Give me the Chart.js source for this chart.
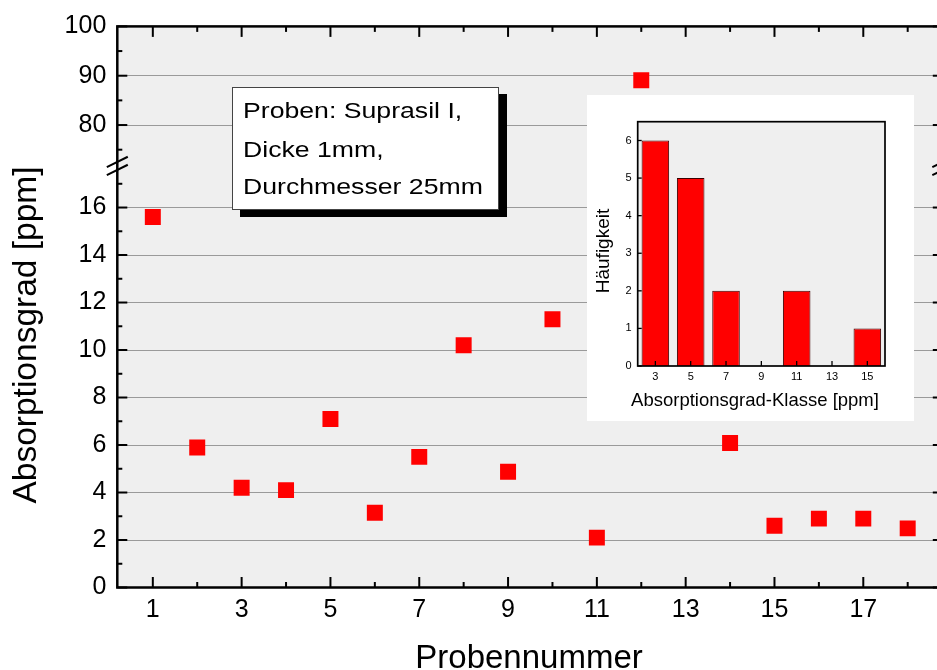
<!DOCTYPE html>
<html>
<head>
<meta charset="utf-8">
<script src="https://cdn.jsdelivr.net/npm/chart.js@4.4.1/dist/chart.umd.min.js"></script>
<style>
html,body{margin:0;padding:0;background:#fff;overflow:hidden;width:937px;height:670px;}
#wrap{position:relative;width:937px;height:670px;overflow:hidden;}
#main{position:absolute;left:0;top:0;}
#note{position:absolute;left:232px;top:87px;width:265px;height:121px;background:#fff;border:1px solid #444;box-shadow:8px 7px 0 0 #000;font-family:'Liberation Sans',Arial,sans-serif;color:#000;}
#note div{position:absolute;left:10px;white-space:nowrap;font-size:22.4px;line-height:26px;transform:scaleX(1.19);transform-origin:0 0;}
#inset{position:absolute;left:587px;top:95px;width:327px;height:326px;background:#fff;}
#insetCanvas{position:absolute;left:0;top:0;}
</style>
</head>
<body>
<div id="wrap">
  <canvas id="main" width="937" height="670"></canvas>
  <div id="note">
    <div style="top:10.2px">Proben: Suprasil I,</div>
    <div style="top:48.5px">Dicke 1mm,</div>
    <div style="top:85.5px">Durchmesser 25mm</div>
  </div>
  <div id="inset"><canvas id="insetCanvas" width="327" height="326"></canvas></div>
</div>
<script>
// ---- data ----
const sampleNumbers = [1, 2, 3, 4, 5, 6, 7, 8, 9, 10, 11, 12, 14, 15, 16, 17, 18];
const absorption    = [15.6, 5.9, 4.2, 4.1, 7.1, 3.15, 5.5, 10.2, 4.87, 11.3, 2.1, 89.1, 6.08, 2.6, 2.9, 2.9, 2.49];
const lowerRange = [0, 17.75];   // lower part of broken y axis
const upperRange = [71.7, 100];  // upper part of broken y axis
const xRange = [0.2, 18.66];     // visible part of the x axis (frame continues just past the right edge)
const histClasses = ['3', '5', '7', '9', '11', '13', '15'];
const histCounts  = [6, 5, 2, 0, 2, 0, 1];
const histRange = [0, 6.5];

const FONT = "'Liberation Sans', Arial, Helvetica, sans-serif";
Chart.defaults.font.family = FONT;
Chart.defaults.color = '#000';

const pts = sampleNumbers.map((x, i) => ({x: x, y: absorption[i]}));
const lowerPts = pts.filter(p => p.y <= lowerRange[1]);
const upperPts = pts.filter(p => p.y >= upperRange[0]);

function seg(ctx, x1, y1, x2, y2) {
  ctx.beginPath(); ctx.moveTo(x1, y1); ctx.lineTo(x2, y2); ctx.stroke();
}

const RIGHT_AXIS_OFFSET = 5.8; // right frame line sits just outside the picture

const mainFrame = {
  id: 'mainFrame',
  beforeDraw(chart) {
    const {ctx, chartArea: a} = chart;
    ctx.save();
    ctx.fillStyle = '#efefef';
    ctx.fillRect(a.left, a.top, a.right - a.left + RIGHT_AXIS_OFFSET, a.bottom - a.top);
    ctx.restore();
  },
  afterDraw(chart) {
    const {ctx, chartArea: a, scales} = chart;
    const xr = a.right + RIGHT_AXIS_OFFSET;
    ctx.save();
    ctx.strokeStyle = '#000';
    ctx.lineWidth = 2;
    const xs = scales.x;
    xs.ticks.forEach(t => {
      const px = xs.getPixelForValue(t.value);
      const len = (t.value % 2 === 1) ? 10.5 : 5.5;
      seg(ctx, px, a.bottom, px, a.bottom - len);
      seg(ctx, px, a.top, px, a.top + len);
    });
    [scales.y, scales.yTop].forEach(s => {
      s.ticks.forEach(t => {
        const py = s.getPixelForValue(t.value);
        const major = s.id === 'y' ? (t.value % 2 === 0) : (t.value % 10 === 0);
        const len = major ? 10 : 5;
        seg(ctx, a.left, py, a.left + len, py);
        seg(ctx, xr, py, xr - len, py);
      });
    });
    ctx.lineWidth = 2.5;
    ctx.strokeRect(a.left, a.top, xr - a.left, a.bottom - a.top);
    // axis break marks
    const by = scales.yTop.bottom;
    ctx.lineWidth = 2;
    [a.left, xr].forEach(x => {
      [-4, 4].forEach(d => seg(ctx, x - 10.5, by + d + 5.2, x + 10.5, by + d - 5.2));
    });
    // axis titles
    ctx.fillStyle = '#000';
    ctx.textAlign = 'center';
    ctx.textBaseline = 'alphabetic';
    ctx.font = '33px ' + FONT;
    ctx.fillText('Probennummer', 529, 668);
    ctx.save();
    ctx.translate(36, 335);
    ctx.rotate(-Math.PI / 2);
    ctx.font = '33.5px ' + FONT;
    ctx.fillText('Absorptionsgrad [ppm]', 0, 0);
    ctx.restore();
    ctx.restore();
  }
};

const pointStyle = {
  pointStyle: 'rect', pointRadius: 11.3, pointHoverRadius: 11.3,
  backgroundColor: '#ff0000', borderColor: '#ff0000', borderWidth: 0, showLine: false
};

new Chart(document.getElementById('main'), {
  type: 'scatter',
  data: {
    datasets: [
      Object.assign({data: lowerPts, yAxisID: 'y'}, pointStyle),
      Object.assign({data: upperPts, yAxisID: 'yTop'}, pointStyle)
    ]
  },
  options: {
    responsive: false, animation: false,
    layout: {autoPadding: false, padding: {top: 26.4, right: 0, left: 0, bottom: 0}},
    plugins: {legend: {display: false}, tooltip: {enabled: false}},
    scales: {
      x: {
        type: 'linear', position: 'bottom', min: xRange[0], max: xRange[1],
        ticks: {stepSize: 1, autoSkip: false, maxRotation: 0, includeBounds: false, padding: 8,
                font: {size: 25}, color: '#000',
                callback: v => (v % 2 === 1 ? String(v) : '')},
        grid: {display: false, drawTicks: false}, border: {display: false},
        afterFit(s) { s.height = 82.5; s.paddingLeft = 0; s.paddingRight = 0; }
      },
      y: {
        type: 'linear', position: 'left', stack: 'absorb', stackWeight: lowerRange[1] * 23.74,
        min: lowerRange[0], max: lowerRange[1],
        ticks: {stepSize: 1, autoSkip: false, includeBounds: false, padding: 11,
                font: {size: 25}, color: '#000',
                callback: v => (v % 2 === 0 ? String(v) : '')},
        grid: {drawTicks: false, lineWidth: 1,
               color: c => (c.tick && c.tick.value % 2 === 0 && c.tick.value > 0) ? '#9a9a9a' : 'rgba(0,0,0,0)'},
        border: {display: false},
        afterFit(s) { s.width = 117.3; }
      },
      yTop: {
        type: 'linear', position: 'left', stack: 'absorb', stackWeight: (upperRange[1] - upperRange[0]) * 4.93,
        min: upperRange[0], max: upperRange[1],
        ticks: {stepSize: 5, autoSkip: false, includeBounds: false, padding: 11,
                font: {size: 25}, color: '#000',
                callback: v => (v % 10 === 0 ? String(v) : '')},
        grid: {drawTicks: false, lineWidth: 1,
               color: c => (c.tick && c.tick.value % 10 === 0 && c.tick.value < 100) ? '#9a9a9a' : 'rgba(0,0,0,0)'},
        border: {display: false},
        afterFit(s) { s.width = 117.3; }
      }
    }
  },
  plugins: [mainFrame]
});

// ---- inset histogram ----
const insetFrame = {
  id: 'insetFrame',
  beforeDraw(chart) {
    const {ctx, chartArea: a} = chart;
    ctx.save();
    ctx.fillStyle = '#efefef';
    ctx.fillRect(a.left, a.top, a.right - a.left, a.bottom - a.top);
    ctx.restore();
  },
  afterDraw(chart) {
    const {ctx, chartArea: a, scales} = chart;
    ctx.save();
    ctx.strokeStyle = '#000';
    ctx.lineWidth = 1.3;
    scales.x.ticks.forEach((t, i) => {
      const px = scales.x.getPixelForTick(i);
      seg(ctx, px, a.bottom, px, a.bottom - 5);
    });
    scales.y.ticks.forEach(t => {
      const py = scales.y.getPixelForValue(t.value);
      seg(ctx, a.left, py, a.left + 4, py);
    });
    ctx.lineWidth = 1.7;
    ctx.strokeRect(a.left, a.top, a.right - a.left, a.bottom - a.top);
    ctx.fillStyle = '#000';
    ctx.textAlign = 'center';
    ctx.textBaseline = 'alphabetic';
    ctx.font = '18.5px ' + FONT;
    ctx.fillText('Absorptionsgrad-Klasse [ppm]', 168, 311);
    ctx.translate(22.3, 156);
    ctx.rotate(-Math.PI / 2);
    ctx.font = '19px ' + FONT;
    ctx.fillText('Häufigkeit', 0, 0);
    ctx.restore();
  }
};

new Chart(document.getElementById('insetCanvas'), {
  type: 'bar',
  data: {
    labels: histClasses,
    datasets: [{
      data: histCounts, backgroundColor: '#ff0000', borderColor: '#3a0000', borderWidth: 1,
      barPercentage: 0.78, categoryPercentage: 1
    }]
  },
  options: {
    responsive: false, animation: false,
    layout: {autoPadding: false, padding: {top: 26.7, right: 29, left: 0, bottom: 0}},
    plugins: {legend: {display: false}, tooltip: {enabled: false}},
    scales: {
      x: {
        ticks: {font: {size: 11}, color: '#000', padding: 4, maxRotation: 0, autoSkip: false},
        grid: {display: false, drawTicks: false}, border: {display: false},
        afterFit(s) { s.height = 55; s.paddingLeft = 0; s.paddingRight = 0; }
      },
      y: {
        min: histRange[0], max: histRange[1],
        ticks: {stepSize: 1, includeBounds: false, font: {size: 11}, color: '#000', padding: 6},
        grid: {display: false, drawTicks: false}, border: {display: false},
        afterFit(s) { s.width = 50.7; }
      }
    }
  },
  plugins: [insetFrame]
});
</script>
</body>
</html>
